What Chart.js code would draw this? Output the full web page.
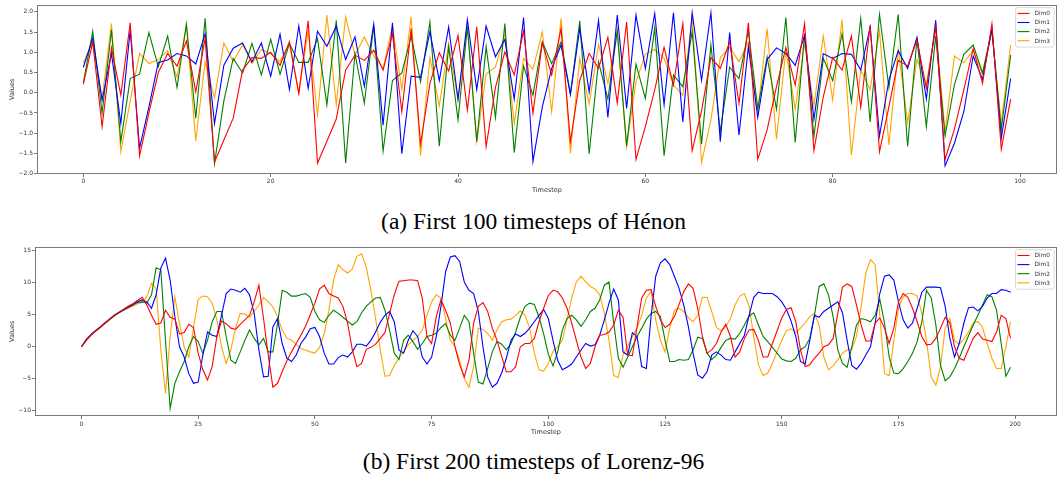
<!DOCTYPE html>
<html><head><meta charset="utf-8">
<script src="https://cdn.jsdelivr.net/npm/chart.js@4/dist/chart.umd.min.js"></script>
<style>
html,body{margin:0;padding:0;background:#fff;}
body{width:1062px;height:480px;overflow:hidden;position:relative;}
.wrap{position:absolute;left:0;width:1062px;height:200px;}
.cap{position:absolute;left:0;width:1067px;text-align:center;font-family:"Liberation Serif","DejaVu Serif",serif;font-size:23.5px;line-height:26px;color:#000;white-space:nowrap;}
</style></head>
<body>
<div class="wrap" style="top:0"><canvas id="c1" width="1062" height="200"></canvas></div>
<div class="cap" style="top:208px">(a) First 100 timesteps of Hénon</div>
<div class="wrap" style="top:240px"><canvas id="c2" width="1062" height="200"></canvas></div>
<div class="cap" style="top:448px">(b) First 200 timesteps of Lorenz-96</div>
<script>
// ---------- Hénon (first 100 timesteps) ----------
const henonSteps = Array.from({length:100}, (_, i) => i);
const henonXTicks = [0, 20, 40, 60, 80, 100];
const henonYTicks = [-2.0, -1.5, -1.0, -0.5, 0.0, 0.5, 1.0, 1.5, 2.0];
const henonDim0 = [
 0.21, 1.25, -0.84, 1.11, -0.06, 1.73, -1.56, -0.5, 0.5, 0.97,
 0.66, 1.28, 0.02, 1.35, -1.72, -1.17, -0.63, 0.56, 0.87, 0.85,
 1.0, 0.68, 1.26, -0.02, 1.78, -1.74, -1.2, -0.65, 0.56, 0.93,
 0.8, 1.05, 0.56, 1.46, -0.47, 1.59, -1.27, 0.23, 0.99, 0.54,
 1.42, -0.43, 1.63, -1.33, 0.13, 1.01, 0.44, 1.53, -0.51, 1.23,
 0.44, 1.59, -1.21, 0.31, 0.97, 0.6, 1.37, -0.25, 1.75, -1.65,
 -0.84, 0.07, 1.12, 0.19, 1.71, -1.43, -0.45, 0.87, 0.6, 1.26,
 -0.26, 1.73, -1.65, -0.92, 0.15, 1.12, 0.19, 1.71, -1.43, -0.1,
 0.87, 0.56, 1.4, -0.36, 1.67, -1.46, -0.35, 0.8, 0.66, 1.3,
 0.11, 1.63, -1.65, -0.9, 0.07, 1.09, 0.23, 1.7, -1.4, -0.16];
const henonDim1 = [
 0.63, 1.35, -0.18, 0.97, -0.76, 1.55, -1.37, -0.35, 0.75, 0.81,
 0.97, 0.91, 0.71, 1.46, -0.76, 0.68, 1.1, 1.23, 0.76, 1.23,
 0.41, 1.45, 0.08, 1.65, 0.11, 1.52, 1.15, 1.65, 0.82, 1.38,
 0.16, 1.7, -0.8, 1.73, -1.51, 0.41, 0.38, 1.51, 0.3, 1.63,
 -0.16, 1.81, 0.08, 1.65, 0.89, 1.32, -0.16, 1.86, -1.7, -0.35,
 0.6, 1.18, -0.04, 1.59, 0.02, 1.79, -0.61, 1.92, -0.39, 1.92,
 0.6, 1.96, -0.3, 1.98, -0.72, 1.98, 0.31, 1.98, -1.21, 1.49,
 -1.05, 1.14, -0.61, 0.82, 1.11, 0.97, 0.68, 1.42, -0.66, 0.97,
 0.85, 0.97, 0.95, 0.56, 1.63, -1.07, 0.31, 1.04, 0.6, 1.37,
 -0.16, 1.79, -1.81, -1.25, -0.47, 0.91, 0.33, 1.59, -1.13, 0.35];
const henonDim2 = [
 0.25, 1.52, -0.51, 1.55, -1.21, 0.35, 0.46, 1.49, 0.64, 1.4,
 0.13, 1.7, -0.63, 1.84, -1.75, -0.2, 0.85, 0.49, 1.22, 0.44,
 1.32, 0.46, 1.22, 0.75, 0.75, 1.34, -0.3, 1.79, -1.74, 0.97,
 -0.26, 1.65, -1.44, 0.3, 0.49, 1.4, 0.27, 1.75, -1.32, 1.14,
 -0.67, 1.63, -1.21, 1.14, -0.61, 1.71, -1.48, 0.66, -0.06, 1.26,
 0.72, 1.26, -0.03, 1.78, -1.51, 0.77, -0.16, 1.53, -1.32, 0.71,
 -0.14, 1.61, -1.56, 0.44, 0.15, 1.51, -1.27, 1.18, -0.96, 0.63,
 0.35, 1.53, -0.39, 0.89, -0.41, 1.86, -1.23, 1.46, -1.09, 0.85,
 0.3, 1.46, -0.22, 1.84, -0.72, 1.94, 0.13, 1.94, -1.33, 1.34,
 -0.84, 1.4, -1.07, 0.2, 0.95, 1.18, 0.49, 1.56, -0.92, 0.93];
const henonDim3 = [
 0.74, 1.25, -0.15, 1.71, -1.46, -0.2, 0.97, 0.72, 0.82, 1.04,
 0.38, 1.65, -1.19, 0.77, -0.12, 1.23, 0.77, 1.19, 0.72, 1.07,
 0.97, 0.77, 1.22, 0.0, 1.53, -0.55, 1.92, -0.3, 1.88, 0.93,
 1.38, 0.91, 0.6, 1.65, 0.08, 1.88, -1.56, 0.87, -0.33, 1.22,
 -0.18, 1.67, -1.21, 0.46, 0.64, 1.46, -0.77, 0.85, 0.58, 1.51,
 -0.47, 1.84, -1.5, 0.85, -0.28, 1.2, 0.23, 1.51, -1.33, 0.27,
 0.95, 1.07, 0.85, 0.19, -0.06, 1.88, -1.73, -0.67, 0.87, 1.12,
 0.77, 1.26, -0.47, 1.59, -1.15, 1.05, -0.41, 1.22, -0.33, 1.4,
 -0.18, 1.81, -1.54, 0.56, 0.08, 1.53, -1.29, 1.07, -0.74, 0.82,
 0.19, 1.65, -0.96, 0.91, 0.74, 1.05, 0.46, 1.51, -0.76, 1.18];

// ---------- Lorenz-96 (first 200 timesteps) ----------
const lorenzSteps = Array.from({length:200}, (_, i) => i);
const lorenzXTicks = [0, 25, 50, 75, 100, 125, 150, 175, 200];
const lorenzYTicks = [-10, -5, 0, 5, 10, 15];
const lorenzDim0 = [
 0, 1.0, 1.8, 2.5, 3.0, 3.7, 4.3, 4.9, 5.4, 5.8,
 6.3, 6.7, 7.2, 7.7, 6.5, 4.9, 3.5, 3.7, 5.7, 4.6,
 4.3, 2.0, 2.2, 3.5, 3.0, -1.0, -3.6, -5.2, -3.1, 1.6,
 4.0, 3.6, 2.9, 2.7, 3.5, 4.2, 4.9, 7.0, 9.6, 4.4,
 -1.3, -6.3, -5.7, -3.9, -2.2, -0.8, 0.5, 1.8, 3.2, 5.0,
 6.8, 9.0, 9.6, 8.3, 7.9, 7.6, 6.3, 3.7, -0.4, -3.1,
 -2.6, -0.4, -0.1, 0.4, 1.3, 2.2, 5.2, 8.1, 10.2, 10.3,
 10.4, 10.4, 10.3, 7.6, 1.6, 0.5, 4.7, 7.3, 5.7, 3.7,
 0, -2.8, -4.7, -2.1, 3.7, 6.3, 6.9, 5.5, 2.9, 1.0,
 -1.5, -3.9, -3.9, -3.1, 0, 0.5, 0.5, 1.3, 3.9, 6.0,
 8.0, 8.8, 8.6, 7.6, 6.0, 3.7, 1.0, -1.6, -3.4, -2.6,
 0, 1.8, 1.9, 2.3, 3.4, 5.7, 4.6, -1.3, -1.4, 3.1,
 7.6, 8.8, 8.9, 6.3, 4.2, 3.0, 3.5, 4.7, 6.6, 8.6,
 9.8, 9.1, 6.0, 1.6, -1.0, -0.5, 0.5, 2.3, 3.5, 1.6,
 -1.6, -0.8, 1.3, 2.6, 2.7, 1.0, -1.6, -1.6, 0.5, 2.5,
 4.5, 5.8, 6.1, 3.9, -0.5, -3.1, -2.8, -1.8, -1.0, 0.0,
 0.3, 1.3, 5.2, 9.3, 9.8, 9.4, 6.5, 3.4, 0.9, 0.9,
 3.7, 4.5, 2.9, 0.5, 2.9, 7.0, 8.3, 7.7, 6.0, 3.9,
 1.6, 0.3, 0.4, 1.3, 2.9, 4.6, 3.7, 0, -1.8, -2.1,
 -0.4, 1.3, 2.2, 1.2, 1.0, 0.8, 2.3, 4.9, 4.4, 1.3];
const lorenzDim1 = [
 0, 1.1, 1.9, 2.5, 3.1, 3.7, 4.3, 4.9, 5.3, 5.8,
 6.2, 6.6, 7.0, 7.3, 7.0, 6.0, 8.1, 12.3, 13.8, 10.4,
 4.7, 0, -1.6, -4.2, -5.7, -5.5, -1.3, 2.3, 1.8, 1.6,
 4.9, 8.3, 9.0, 8.8, 8.5, 9.1, 8.1, 5.2, -0.5, -4.7,
 -4.6, 3.1, 4.4, 0.5, -1.8, -2.3, -1.3, 0.5, 1.5, 2.8,
 3.0, 1.6, -1.0, -2.7, -2.7, -1.7, -1.3, -1.6, -0.8, 0.4,
 0.4, 0.1, 1.0, 2.3, 3.8, 4.9, 5.5, 3.9, -0.5, -1.0,
 1.0, 2.5, 1.6, -1.6, -2.7, -1.6, 1.6, 6.3, 11.7, 14.0,
 14.2, 13.3, 10.1, 8.8, 8.3, 5.5, 0, -4.7, -6.3, -5.7,
 -4.1, -1.8, 1.0, 2.0, 1.6, 2.1, 2.9, 3.9, 4.9, 5.8,
 4.4, 1.0, -2.1, -3.6, -3.2, -2.7, -1.6, -0.5, 0.5, 0.1,
 0.3, 1.8, 4.2, 6.8, 9.0, 7.3, -0.8, -1.3, 2.2, 1.6,
 -3.1, -3.4, 4.7, 11.0, 13.1, 13.7, 12.8, 11.0, 9.1, 6.5,
 3.1, -1.0, -4.4, -4.9, -3.9, -1.3, -0.8, -1.3, -2.0, -2.1,
 -0.8, 0.5, 1.8, 4.9, 7.7, 8.5, 8.3, 8.3, 8.3, 7.8,
 7.0, 5.8, 4.0, 1.6, -2.3, -2.7, 1.0, 4.9, 4.6, 5.5,
 6.0, 6.5, 7.0, 5.3, 1.0, -2.9, -3.5, -2.6, -1.3, 0,
 3.7, 8.3, 11.0, 11.2, 10.4, 7.0, 4.2, 2.9, 3.7, 6.0,
 8.5, 9.3, 9.3, 9.3, 9.2, 6.3, 1.3, -1.6, 0.5, 3.7,
 6.1, 6.2, 5.6, 6.3, 7.6, 8.3, 8.3, 8.9, 8.8, 8.5];
const lorenzDim2 = [
 0, 1.0, 1.8, 2.4, 3.0, 3.6, 4.2, 4.8, 5.3, 5.7,
 6.1, 6.5, 6.9, 7.0, 6.8, 8.1, 12.3, 12.0, 1.0, -9.6,
 -5.7, -3.9, -2.3, 0, 1.6, 0.8, -1.0, 1.0, 3.9, 5.5,
 5.5, 1.6, -2.1, -2.6, -0.8, 1.0, 2.6, 1.3, 0.3, 1.3,
 -0.8, -0.8, 3.6, 8.8, 8.5, 7.9, 7.9, 8.1, 8.3, 7.7,
 5.5, 4.2, 3.8, 4.9, 5.7, 5.2, 4.6, 4.0, 3.4, 3.9,
 5.3, 6.3, 7.0, 7.6, 7.7, 5.7, 2.6, -1.0, -2.0, 1.0,
 1.8, 0.8, -0.4, 0.5, 1.6, 1.8, 2.1, 3.0, 3.6, 1.8,
 1.0, 2.9, 4.9, 3.9, -1.0, -5.5, -5.8, -3.4, -0.8, 0.8,
 0.4, -0.5, 0.5, 2.3, 4.6, 6.3, 6.8, 6.6, 4.6, 2.0,
 -1.2, -3.0, -0.8, 2.6, 4.4, 4.9, 4.2, 3.2, 4.2, 5.5,
 6.0, 7.3, 9.6, 10.1, 3.7, -1.8, -3.2, -1.6, 0, 1.6,
 2.9, 4.3, 5.2, 5.5, 4.7, 1.0, -2.3, -2.3, -2.0, -2.1,
 -2.0, -0.5, 1.5, 1.3, -1.0, -2.0, -1.3, -0.1, 1.0, 1.3,
 1.2, 2.1, 3.4, 4.8, 5.3, 3.4, 1.6, 0.8, -0.1, -1.0,
 -1.9, -2.2, -2.3, -1.8, -0.5, 0, 1.3, 4.9, 9.4, 9.8,
 8.1, 4.7, -0.5, -2.6, -3.2, 0, 3.4, 4.4, 4.2, 3.9,
 4.9, 7.4, 3.7, -1.6, -4.1, -4.2, -3.4, -2.3, -1.0, 0.8,
 3.9, 8.8, 7.6, 3.4, -2.9, -5.3, -4.7, -3.4, -1.8, 0,
 1.7, 3.4, 4.9, 6.5, 8.1, 7.8, 5.7, 0.5, -4.6, -3.2];
const lorenzDim3 = [
 0, 0.9, 1.7, 2.4, 3.0, 3.6, 4.2, 4.8, 5.3, 5.7,
 6.0, 6.3, 6.7, 6.9, 7.8, 9.9, 9.1, -0.5, -7.3, 1.6,
 7.8, 3.6, 0, -1.6, 2.9, 7.4, 7.9, 7.8, 6.8, 4.2,
 0, -2.6, -0.5, 2.9, 5.2, 5.1, 4.6, 5.5, 6.5, 7.7,
 7.0, 6.2, 4.7, 2.6, 1.3, 1.0, 0.4, -0.3, -0.5, -0.8,
 -1.0, -0.1, 2.1, 5.7, 10.4, 12.8, 12.0, 11.5, 12.1, 14.1,
 14.5, 12.4, 8.8, 4.4, -0.5, -4.6, -4.5, -2.9, -1.8, -0.8,
 0.3, 1.0, 1.6, 2.6, 4.9, 7.0, 8.1, 7.6, 4.4, 1.0,
 0, -2.1, -5.0, -6.3, -3.1, 2.9, 2.7, 2.1, 1.0, 2.6,
 3.9, 4.2, 4.3, 4.9, 5.6, 4.9, 2.9, -1.0, -3.6, -3.8,
 -2.6, -0.7, 0, 1.0, 4.2, 7.6, 10.1, 11.0, 10.1, 9.4,
 9.0, 8.1, 5.2, 1.0, -4.5, -4.8, -1.3, 0.1, 1.6, 2.9,
 4.9, 7.6, 8.6, 4.2, 1.0, -0.8, 2.9, 5.7, 6.0, 5.5,
 4.5, 3.9, 4.9, 7.7, 7.7, 5.5, 3.0, 2.5, 3.1, 4.4,
 6.5, 7.9, 8.3, 6.3, 1.6, -2.8, -4.5, -4.1, -2.6, -0.8,
 1.0, 2.5, 2.8, 2.2, 2.9, 3.7, 4.7, 5.2, 3.4, -1.6,
 -3.6, -3.0, -2.0, -1.0, -0.5, -0.4, 1.6, 6.3, 11.5, 13.6,
 12.8, 4.9, -4.2, -4.5, 1.0, 6.0, 7.8, 8.3, 8.3, 7.9,
 5.2, 1.0, -4.7, -6.0, -3.1, 2.9, 4.4, 1.0, 0.4, 1.2,
 2.3, 3.7, 3.9, 3.0, 0.5, -1.8, -3.4, -3.4, 0, 3.9];

const seriesLabels = ['Dim0', 'Dim1', 'Dim2', 'Dim3'];
const seriesColors = ['#ff0000', '#0000ff', '#008000', '#ffa500'];

const FONT = '"DejaVu Sans", Verdana, sans-serif';
const TEXT = '#333';

function makeDatasets(steps, arrays) {
  return arrays.map((arr, k) => ({
    label: seriesLabels[k],
    data: arr.map((v, i) => ({x: steps[i], y: v})),
    borderColor: seriesColors[k],
    backgroundColor: seriesColors[k],
    borderWidth: 1.1,
    pointRadius: 0,
    tension: 0,
    fill: false
  }));
}

const framePlugin = {
  id: 'frameLegend',
  afterDatasetsDraw(chart) {
    const ctx = chart.ctx, a = chart.chartArea;
    ctx.save();
    ctx.strokeStyle = '#7a7a7a';
    ctx.lineWidth = 1;
    ctx.strokeRect(Math.round(a.left) + 0.5, Math.round(a.top) + 0.5,
                   Math.round(a.right - a.left) - 1, Math.round(a.bottom - a.top) - 1);
    // legend (upper right, inside axes)
    const w = 38.5, h = 39.5;
    const x0 = a.right - 3 - w, y0 = a.top + 3;
    ctx.fillStyle = 'rgba(255,255,255,0.85)';
    ctx.strokeStyle = '#d0d0d0';
    ctx.lineWidth = 0.8;
    ctx.beginPath();
    if (ctx.roundRect) ctx.roundRect(x0, y0, w, h, 2); else ctx.rect(x0, y0, w, h);
    ctx.fill(); ctx.stroke();
    ctx.font = '5.8px ' + FONT;
    ctx.textBaseline = 'middle';
    ctx.textAlign = 'left';
    chart.data.datasets.forEach((ds, k) => {
      const yy = y0 + 5.8 + k * 9.1;
      ctx.strokeStyle = ds.borderColor;
      ctx.lineWidth = 1.1;
      ctx.beginPath();
      ctx.moveTo(x0 + 2, yy); ctx.lineTo(x0 + 14, yy);
      ctx.stroke();
      ctx.fillStyle = TEXT;
      ctx.fillText(ds.label, x0 + 19, yy + 0.3);
    });
    ctx.restore();
  }
};

function makeChart(id, steps, arrays, g) {
  return new Chart(document.getElementById(id), {
    type: 'line',
    data: { datasets: makeDatasets(steps, arrays) },
    plugins: [framePlugin],
    options: {
      responsive: false,
      animation: false,
      devicePixelRatio: 1,
      layout: { padding: { left: 0, right: g.padRight, top: g.padTop, bottom: 0 } },
      plugins: { legend: { display: false }, tooltip: { enabled: false } },
      scales: {
        x: {
          type: 'linear', min: g.xMin, max: g.xMax,
          afterBuildTicks: s => { s.ticks = g.xTicks.map(v => ({value: v})); },
          afterFit: s => { s.height = g.xAxisH; },
          border: { display: false },
          grid: { drawOnChartArea: false, drawTicks: true, tickLength: 3, color: '#555', lineWidth: 0.8 },
          ticks: { font: { family: FONT, size: 6 }, color: TEXT, padding: g.xTickPad, maxRotation: 0, autoSkip: false,
                   callback: v => String(v) },
          title: { display: true, text: 'Timestep', font: { family: FONT, size: 6.5 }, color: TEXT,
                   padding: { top: 0, bottom: g.xTitlePad } }
        },
        y: {
          type: 'linear', min: g.yMin, max: g.yMax,
          afterBuildTicks: s => { s.ticks = g.yTicks.map(v => ({value: v})); },
          afterFit: s => { s.width = g.yAxisW; },
          border: { display: false },
          grid: { drawOnChartArea: false, drawTicks: true, tickLength: 3, color: '#555', lineWidth: 0.8 },
          ticks: { font: { family: FONT, size: 6 }, color: TEXT, padding: 1, autoSkip: false,
                   callback: v => g.fmt(v) },
          title: { display: true, text: 'Values', font: { family: FONT, size: 6.5 }, color: TEXT,
                   padding: { top: 8, bottom: 0 } }
        }
      }
    }
  });
}

const minus = s => s.replace('-', '\u2212');

makeChart('c1', henonSteps, [henonDim0, henonDim1, henonDim2, henonDim3], {
  xMin: -4.95, xMax: 103.95, xTicks: henonXTicks,
  yMin: -2.01, yMax: 2.18, yTicks: henonYTicks,
  fmt: v => minus(Number(v).toFixed(1)),
  padRight: 5, padTop: 4, yAxisW: 37, xAxisH: 26, xTickPad: 1, xTitlePad: 6
});

makeChart('c2', lorenzSteps, [lorenzDim0, lorenzDim1, lorenzDim2, lorenzDim3], {
  xMin: -9.95, xMax: 208.95, xTicks: lorenzXTicks,
  yMin: -10.8, yMax: 15.6, yTicks: lorenzYTicks,
  fmt: v => minus(String(v)),
  padRight: 5, padTop: 6.7, yAxisW: 35, xAxisH: 24, xTickPad: 2, xTitlePad: 4
});
</script>
</body></html>
